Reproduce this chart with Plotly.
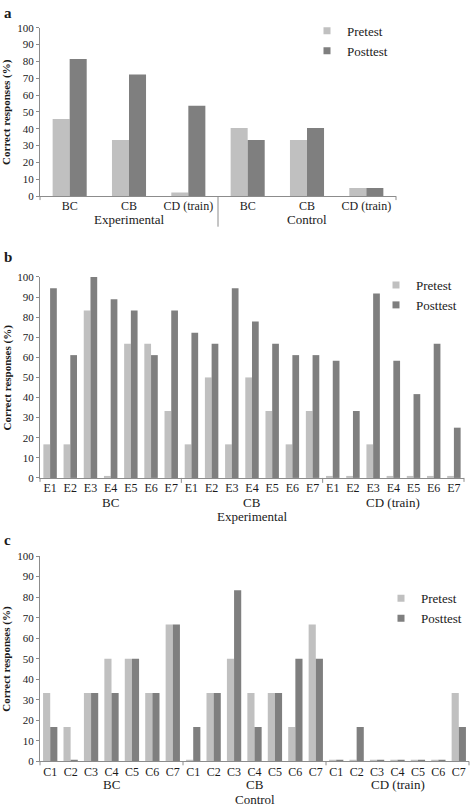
import plotly.graph_objects as go

# ---------------- data ----------------
series_names = ["Pretest", "Posttest"]

# Panel a
a_group = ["Experimental"] * 3 + ["Control"] * 3
a_cond = ["BC", "CB", "CD (train)", "BC", "CB", "CD (train)"]
a_pre = [45.8, 33.3, 2.2, 40.4, 33.3, 4.8]
a_post = [81.4, 72.2, 53.7, 33.3, 40.4, 4.8]

# Panel b (Experimental participants)
b_cond = ["BC"] * 7 + ["CB"] * 7 + ["CD (train)"] * 7
b_part = ["E1", "E2", "E3", "E4", "E5", "E6", "E7"] * 3
b_pre = [16.7, 16.7, 83.3, 0.8, 66.7, 66.7, 33.3,
         16.7, 50.0, 16.7, 50.0, 33.3, 16.7, 33.3,
         0.8, 0.8, 16.7, 0.8, 0.8, 0.8, 0.8]
b_post = [94.4, 61.1, 100.0, 88.9, 83.3, 61.1, 83.3,
          72.2, 66.7, 94.4, 77.8, 66.7, 61.1, 61.1,
          58.3, 33.3, 91.7, 58.3, 41.7, 66.7, 25.0]

# Panel c (Control participants)
c_cond = ["BC"] * 7 + ["CB"] * 7 + ["CD (train)"] * 7
c_part = ["C1", "C2", "C3", "C4", "C5", "C6", "C7"] * 3
c_pre = [33.3, 16.7, 33.3, 50.0, 50.0, 33.3, 66.7,
         0.8, 33.3, 50.0, 33.3, 33.3, 16.7, 66.7,
         0.8, 0.8, 0.8, 0.8, 0.8, 0.8, 33.3]
c_post = [16.7, 0.8, 33.3, 33.3, 50.0, 33.3, 66.7,
          16.7, 33.3, 83.3, 16.7, 33.3, 50.0, 50.0,
          0.8, 16.7, 0.8, 0.8, 0.8, 0.8, 16.7]

y_ticks = list(range(0, 101, 10))

# ---------------- style ----------------
W, H = 470, 812
PRE_C = "#c0c0c0"
POST_C = "#7f7f7f"
FONT = "Liberation Serif, Times New Roman, serif"
TXT = "#1a1a1a"
AXC = "#8c8c8c"


def py(px):
    return 1 - px / H


def pxx(px):
    return px / W


panels = [
    dict(key="", groups=a_group, cats=a_cond, pre=a_pre, post=a_post, bw=0.287,
         xdom=[pxx(40), pxx(396)], ydom=[py(193), py(22)], legend="legend",
         letter="a", letter_y=7, group_y=217, third=None, div_len=31, standoff=-2),
    dict(key="2", groups=b_cond, cats=b_part, pre=b_pre, post=b_post, bw=0.333,
         xdom=[pxx(40), pxx(464)], ydom=[py(479), py(275)], legend="legend2",
         letter="b", letter_y=255, group_y=504, third="Experimental", third_y=518,
         div_len=5, standoff=-1),
    dict(key="3", groups=c_cond, cats=c_part, pre=c_pre, post=c_post, bw=0.35,
         xdom=[pxx(40), pxx(469)], ydom=[py(766.7), py(558.3)], legend="legend3",
         letter="c", letter_y=542, group_y=790.5, third="Control", third_y=805.5,
         div_len=4, standoff=-1),
]

fig = go.Figure()
shapes = []
annotations = []

for p in panels:
    k = p["key"]
    xa = "x" + k
    ya = "y" + k
    n = len(p["cats"])
    pos = list(range(n))
    for name, vals, col, off in [("Pretest", p["pre"], PRE_C, -p["bw"]),
                                 ("Posttest", p["post"], POST_C, 0.0)]:
        fig.add_trace(go.Bar(
            x=pos, y=vals, name=name,
            customdata=[[g, c] for g, c in zip(p["groups"], p["cats"])],
            hovertemplate="%{customdata[0]} %{customdata[1]}: %{y}<extra>" + name + "</extra>",
            marker=dict(color=col, line=dict(width=0)),
            width=p["bw"], offset=off,
            xaxis=xa, yaxis=ya, showlegend=False,
        ))
    # legend entries (small square symbols) on a hidden axis pair
    for name, col in [("Pretest", PRE_C), ("Posttest", POST_C)]:
        fig.add_trace(go.Scatter(
            x=[None], y=[None], mode="markers", name=name,
            marker=dict(symbol="square", size=7, color=col),
            xaxis="x4", yaxis="y4", legend=p["legend"], showlegend=True,
        ))

    fig.layout["xaxis" + k] = dict(
        domain=p["xdom"], anchor=ya, range=[-0.5, n - 0.5],
        tickvals=pos, ticktext=p["cats"], ticklabelstandoff=p["standoff"],
        showline=True, linecolor=AXC, linewidth=1, ticks="",
        showgrid=False, zeroline=False,
        tickfont=dict(family=FONT, size=12, color=TXT),
    )
    fig.layout["yaxis" + k] = dict(
        domain=p["ydom"], anchor=xa, range=[0, 100], tickvals=y_ticks,
        showline=True, linecolor=AXC, linewidth=1, ticks="outside", ticklen=3,
        tickcolor=AXC, showgrid=False, zeroline=False,
        tickfont=dict(family=FONT, size=11, color=TXT),
    )

    # group boundaries
    bounds = [0]
    for i in range(1, n):
        if p["groups"][i] != p["groups"][i - 1]:
            bounds.append(i)
    bounds.append(n)
    bottom_px = (1 - p["ydom"][0]) * H
    for b in bounds:
        inner = 0 < b < n
        length = p["div_len"] if inner else 4
        shapes.append(dict(
            type="line", xref=xa + " domain", yref="paper",
            x0=b / n, x1=b / n, y0=p["ydom"][0], y1=py(bottom_px + length),
            line=dict(color=AXC, width=1),
        ))
    # group labels
    for s, e in zip(bounds[:-1], bounds[1:]):
        annotations.append(dict(
            text=p["groups"][s], xref=xa, yref="paper",
            x=(pos[s] + pos[e - 1]) / 2, y=py(p["group_y"]), showarrow=False,
            font=dict(family=FONT, size=13, color=TXT),
            xanchor="center", yanchor="middle",
        ))

    # y title
    mid_px = (1 - (p["ydom"][0] + p["ydom"][1]) / 2) * H
    annotations.append(dict(
        text="<b>Correct responses (%)</b>", textangle=-90,
        xref="paper", yref="paper", x=pxx(7), y=py(mid_px),
        showarrow=False, font=dict(family=FONT, size=11, color=TXT),
        xanchor="center", yanchor="middle",
    ))
    # panel letter
    annotations.append(dict(
        text="<b>" + p["letter"] + "</b>", xref="paper", yref="paper",
        x=pxx(2), y=py(p["letter_y"]), showarrow=False,
        font=dict(family=FONT, size=15, color=TXT),
        xanchor="left", yanchor="middle",
    ))
    if p["third"]:
        annotations.append(dict(
            text=p["third"], xref=xa + " domain", yref="paper",
            x=0.5, y=py(p["third_y"]), showarrow=False,
            font=dict(family=FONT, size=13, color=TXT),
            xanchor="center", yanchor="middle",
        ))

fig.update_layout(
    xaxis4=dict(visible=False, domain=[0, 0.01], anchor="y4"),
    yaxis4=dict(visible=False, domain=[0, 0.01], anchor="x4"),
)

leg_common = dict(font=dict(family=FONT, size=13, color=TXT),
                  bgcolor="rgba(0,0,0,0)", xanchor="left", yanchor="top",
                  itemwidth=30, tracegroupgap=0)
fig.update_layout(
    width=W, height=H,
    margin=dict(l=0, r=0, t=0, b=0),
    paper_bgcolor="white", plot_bgcolor="white",
    barmode="overlay",
    showlegend=True,
    legend=dict(x=pxx(307), y=py(10), **leg_common),
    legend2=dict(x=pxx(376), y=py(268), **leg_common),
    legend3=dict(x=pxx(381), y=py(586), **leg_common),
    shapes=shapes, annotations=annotations,
    font=dict(family=FONT),
)

fig.write_html(
    "out.html",
    config={"displayModeBar": False},
    post_script="document.body.style.margin='0';document.body.style.overflow='hidden';",
)
